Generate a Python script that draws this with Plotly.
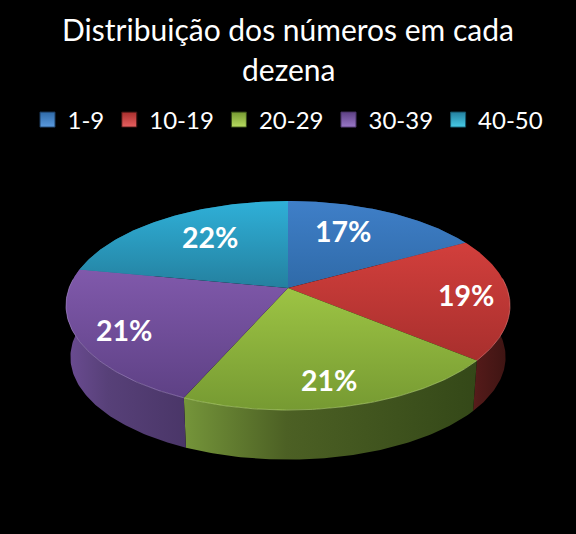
import numpy as np
import plotly.graph_objects as go

categories = ['1-9', '10-19', '20-29', '30-39', '40-50']
shares = [17.0, 19.0, 20.6, 21.4, 22.0]

top_light = ['#3f7fc8', '#d23f3c', '#9dc444', '#8059ab', '#2fb0d8']
top_dark = ['#2f6aa8', '#a82f2d', '#769a32', '#5e4185', '#24809f']
wall_left = ['#2a5a90', '#66201f', '#75953a', '#6b4c92', '#1f7a98']
wall_mid = ['#234c78', '#521a19', '#4c6024', '#574078', '#1a6680']
wall_right = ['#1c3c60', '#3c1412', '#344818', '#4a3668', '#155468']
rim_colors = ['#6f9fd8', '#e07a78', '#b8d878', '#a58cc8', '#70c8e0']
swatch_light = ['#5b9be0', '#e86060', '#b8dc60', '#9a78c8', '#48cce8']
label_radius = [0.64, 0.8, 0.8, 0.8, 0.64]
label_dx = [-10, 1, -5, 1, 4]
label_dy = [6, 1, -1, -2, 5]

# pie drawn in pixel space, perspective disc seen from above
CX, CY = 288, 288
RX, RY, PERSP = 218.9, 101.6, 0.1675
DEPTH, SHRINK = 52, 0.98


def project(theta, r=1.0, depth=0.0, scale=1.0):
    u = r * np.sin(theta)
    v = -r * np.cos(theta)
    w = 1 - PERSP * v
    return CX + scale * RX * u / w, CY + depth + scale * RY * v / w


edges = np.cumsum([0] + shares) / sum(shares) * 2 * np.pi
fig = go.Figure()

# side walls first, the top surface covers whatever faces backwards
for i, name in enumerate(categories):
    th = np.linspace(edges[i], edges[i + 1], 80)
    x0, y0 = project(th)
    x1, y1 = project(th[::-1], depth=DEPTH, scale=SHRINK)
    fig.add_trace(go.Scatter(
        x=np.r_[x0, x1], y=np.r_[y0, y1], mode='lines', line_width=0,
        fill='toself', showlegend=False, hoverinfo='skip',
        fillgradient=dict(type='horizontal',
                          colorscale=[[0, wall_left[i]], [0.35, wall_mid[i]], [1, wall_right[i]]]),
    ))

for i, name in enumerate(categories):
    th = np.linspace(edges[i], edges[i + 1], 80)
    x0, y0 = project(th)
    # y axis is flipped, so the gradient runs dark to light here
    fig.add_trace(go.Scatter(
        x=np.r_[CX, x0, CX], y=np.r_[CY, y0, CY], mode='lines', line_width=0,
        fill='toself', showlegend=False, hoverinfo='skip',
        fillgradient=dict(type='vertical',
                          colorscale=[[0, top_dark[i]], [1, top_light[i]]]),
    ))
    # thin highlight where the top meets the wall, front half only
    front = np.cos(th) < 0.1
    fig.add_trace(go.Scatter(
        x=x0[front], y=y0[front], mode='lines', showlegend=False, hoverinfo='skip',
        line=dict(color=rim_colors[i], width=0.6),
    ))

# dummy points, just for the legend
for i, name in enumerate(categories):
    fig.add_trace(go.Scatter(
        x=[None], y=[None], mode='markers', name=name,
        marker=dict(symbol='square', size=15, color=top_dark[i],
                    gradient=dict(type='vertical', color=swatch_light[i]),
                    line=dict(color=wall_right[i], width=1)),
    ))

for i, share in enumerate(shares):
    mid = (edges[i] + edges[i + 1]) / 2
    lx, ly = project(mid, r=label_radius[i])
    fig.add_annotation(x=lx + label_dx[i], y=ly - label_dy[i], text=f'<b>{round(share)}%</b>',
                       showarrow=False, font=dict(family='Lato', size=28.5, color='white'))

fig.add_annotation(x=288, y=69, text='dezena', showarrow=False,
                   font=dict(family='Lato', size=30, color='white'))

fig.update_layout(
    width=576, height=534,
    paper_bgcolor='black', plot_bgcolor='black',
    margin=dict(l=0, r=0, t=0, b=0),
    title=dict(text='Distribuição dos números em cada', x=0.5, xanchor='center',
               y=1 - 30 / 534, yanchor='middle',
               font=dict(family='Lato', size=30, color='white')),
    legend=dict(orientation='h', x=288 / 576, xanchor='center', y=1 - 120 / 534, yanchor='middle',
                font=dict(family='Lato', size=24, color='white')),
    xaxis=dict(visible=False, range=[0, 576], fixedrange=True),
    yaxis=dict(visible=False, range=[534, 0], fixedrange=True),
)

# page margin would leave a white frame around the black figure
fig.write_html("out.html", config={'displayModeBar': False},
               post_script="document.body.style.margin='0';document.body.style.background='black';")
